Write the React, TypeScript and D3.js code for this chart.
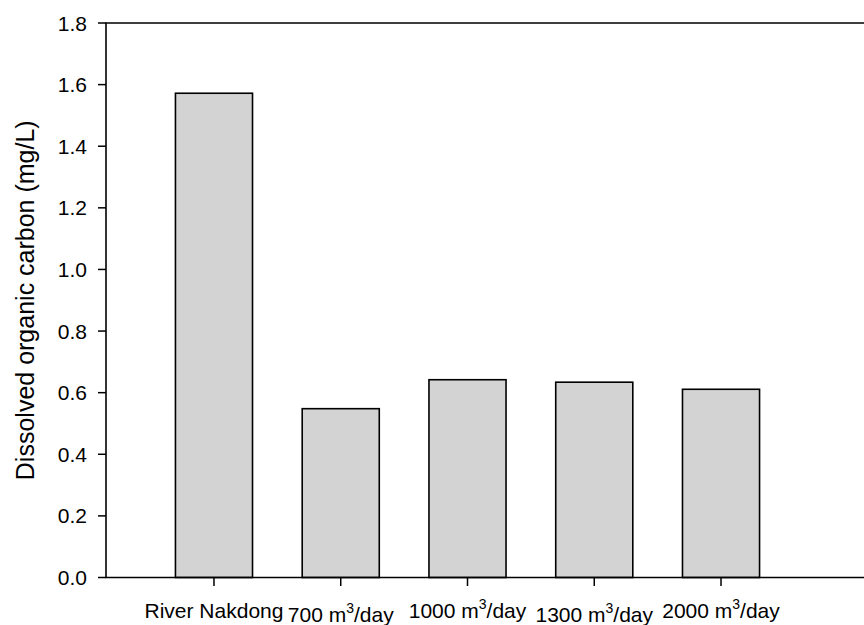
import React from "react";
import * as d3 from "d3";

// Dissolved organic carbon by source / flow rate
const categories = ["River Nakdong", "700", "1000", "1300", "2000"];
const docValues = [1.572, 0.548, 0.642, 0.634, 0.611];
const yTicks = [0, 0.2, 0.4, 0.6, 0.8, 1.0, 1.2, 1.4, 1.6, 1.8];
const yLabel = "Dissolved organic carbon (mg/L)";

const W = 864;
const H = 625;
const left = 106;
const top = 23;
const bottom = 577.5;
const right = 880;
const FONT = "'Liberation Sans', Arial, Helvetica, sans-serif";

export default function App() {
  const y = d3.scaleLinear().domain([0, 1.8]).range([bottom, top]);
  const x = d3
    .scaleBand<string>()
    .domain(categories)
    .range([150.6, 784.4])
    .paddingInner(0.392)
    .paddingOuter(0.196);
  const fmt = d3.format(".1f");

  return (
    <svg
      width={W}
      height={H}
      style={{ position: "absolute", left: 0, top: 0, background: "#fff" }}
      fontFamily={FONT}
    >
      {/* bars */}
      {categories.map((c, i) => (
        <rect
          key={c}
          x={x(c)}
          y={y(docValues[i])}
          width={x.bandwidth()}
          height={y(0) - y(docValues[i])}
          fill="#d3d3d3"
          stroke="#000"
          strokeWidth={1.6}
        />
      ))}

      {/* frame: top, left spine, x axis */}
      <path
        d={`M${right},${top}H${left}V${bottom}H${right}`}
        fill="none"
        stroke="#000"
        strokeWidth={1.6}
      />

      {/* y ticks */}
      {yTicks.map((t) => (
        <g key={t}>
          <line x1={left - 8} x2={left} y1={y(t)} y2={y(t)} stroke="#000" strokeWidth={1.5} />
          <text
            x={left - 19}
            y={y(t)}
            dy="0.36em"
            textAnchor="end"
            fontSize={21}
            fill="#000"
          >
            {fmt(t)}
          </text>
        </g>
      ))}

      {/* x ticks and labels */}
      {categories.map((c, i) => {
        const cx = (x(c) ?? 0) + x.bandwidth() / 2;
        const baseY = i % 2 === 1 ? 621.5 : 617.5;
        return (
          <g key={c}>
            <line x1={cx} x2={cx} y1={bottom} y2={bottom + 8.5} stroke="#000" strokeWidth={1.5} />
            {i === 0 ? (
              <text x={cx} y={baseY} textAnchor="middle" fontSize={21} fill="#000">
                {c}
              </text>
            ) : (
              <text x={cx} y={baseY} textAnchor="middle" fontSize={21} fill="#000">
                {c} m
                <tspan fontSize={14} dy={-9}>
                  3
                </tspan>
                <tspan dy={9}>/day</tspan>
              </text>
            )}
          </g>
        );
      })}

      {/* y axis title */}
      <text
        transform={`translate(33.5,${(top + bottom) / 2}) rotate(-90)`}
        textAnchor="middle"
        fontSize={25}
        fill="#000"
      >
        {yLabel}
      </text>
    </svg>
  );
}
